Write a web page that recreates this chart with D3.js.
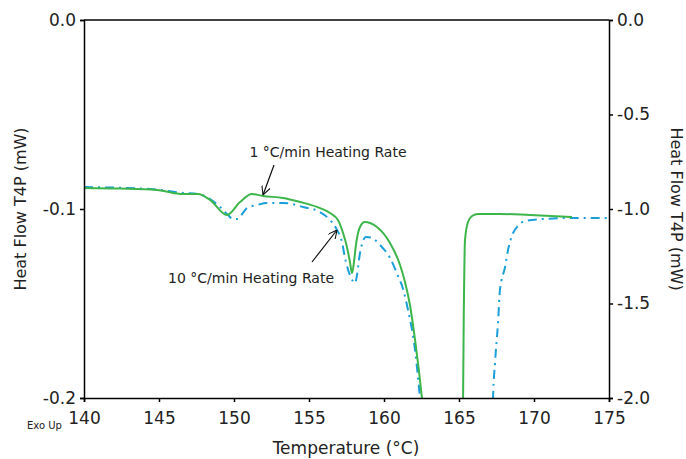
<!DOCTYPE html>
<html><head><meta charset="utf-8">
<script src="https://cdn.jsdelivr.net/npm/d3@7"></script>
<style>body{margin:0;background:#fff}svg{display:block}text{font-family:"DejaVu Sans",sans-serif;fill:#222}</style>
</head><body>
<svg id="c" width="686" height="459"></svg>
<script>
// Temperature (°C) and heat flow (mW) for 1 °C/min (left axis)
const temp1 = [140,142.4,144.87,146.6,147.6,148.4,149.53,150.4,151.2,151.93,153.27,154.4,155.53,156.4,156.93,157.27,157.53,157.73,157.87,158.0,158.13,158.4,158.73,159.07,159.53,160.4,161.07,161.4,161.73,162.07,162.53,162.8,163.07,163.73,165.2,165.27,165.33,165.4,165.6,165.87,166.27,167.73,169.73,172.53];
const flow1 = [-0.0889,-0.0892,-0.0899,-0.0921,-0.0921,-0.0952,-0.1032,-0.0963,-0.0921,-0.0931,-0.0942,-0.0963,-0.0989,-0.1021,-0.1058,-0.1127,-0.1201,-0.128,-0.1339,-0.128,-0.119,-0.1095,-0.1069,-0.1074,-0.1095,-0.118,-0.1296,-0.1386,-0.1508,-0.1693,-0.2,-0.222,-0.254,-0.36,-0.36,-0.2011,-0.148,-0.1164,-0.1069,-0.1037,-0.1026,-0.1026,-0.1032,-0.1042];
// 10 °C/min (right axis)
const temp10 = [140,144.4,146.6,147.6,148.4,149.07,149.6,149.93,150.2,150.87,151.53,152.2,153.27,154.6,155.73,156.4,156.87,157.2,157.4,157.73,158.07,158.2,158.4,158.8,159.2,159.73,160.4,160.93,161.27,161.6,162.07,162.4,162.67,163.4,167.07,167.27,167.4,167.6,167.73,168.07,168.27,168.6,168.93,169.4,170.6,172.2,175];
const flow10 = [-0.884,-0.894,-0.915,-0.921,-0.947,-0.989,-1.032,-1.053,-1.053,-0.995,-0.979,-0.968,-0.968,-0.989,-1.016,-1.058,-1.111,-1.175,-1.259,-1.349,-1.392,-1.349,-1.233,-1.148,-1.153,-1.19,-1.259,-1.354,-1.423,-1.534,-1.746,-2.0,-2.22,-3.6,-3.6,-2.0,-1.815,-1.603,-1.429,-1.307,-1.217,-1.127,-1.09,-1.063,-1.053,-1.048,-1.048];
const xTicks = [140,145,150,155,160,165,170,175];
const yLeftTicks = [0.0,-0.1,-0.2];
const yRightTicks = [0.0,-0.5,-1.0,-1.5,-2.0];

const svg = d3.select("#c");
const m = {l:84, r:609, t:20, b:398};
const x = d3.scaleLinear().domain([140,175]).range([m.l,m.r]);
const yL = d3.scaleLinear().domain([-0.2,0]).range([m.b,m.t]);
const yR = d3.scaleLinear().domain([-2,0]).range([m.b,m.t]);

svg.append("defs").append("clipPath").attr("id","clip").append("rect")
  .attr("x",m.l).attr("y",m.t).attr("width",m.r-m.l).attr("height",m.b-m.t);
const mk = svg.select("defs").append("marker").attr("id","arr").attr("viewBox","0 0 10 10")
  .attr("refX",10).attr("refY",5).attr("markerWidth",9).attr("markerHeight",9).attr("orient","auto")
  .attr("markerUnits","userSpaceOnUse");
mk.append("path").attr("d","M0,0L10,5L0,10").attr("fill","none").attr("stroke","#111").attr("stroke-width",1.2);

const g = svg.append("g").attr("clip-path","url(#clip)");
const d1 = temp1.map((t,i)=>[t,flow1[i]]);
const d10 = temp10.map((t,i)=>[t,flow10[i]]);
g.append("path").datum(d10).attr("fill","none").attr("stroke","#1a9fdb").attr("stroke-width",2)
  .attr("stroke-dasharray","9,5,2,5")
  .attr("d",d3.line().x(d=>x(d[0])).y(d=>yR(d[1])).curve(d3.curveMonotoneX));
g.append("path").datum(d1).attr("fill","none").attr("stroke","#3cb54a").attr("stroke-width",2)
  .attr("d",d3.line().x(d=>x(d[0])).y(d=>yL(d[1])).curve(d3.curveMonotoneX));

// axes
const fs = "17px";
const ax = svg.append("g").attr("transform",`translate(0,${m.b})`)
  .call(d3.axisBottom(x).tickValues(xTicks).tickSize(4).tickPadding(4).tickFormat(d3.format("d")));
const al = svg.append("g").attr("transform",`translate(${m.l},0)`)
  .call(d3.axisLeft(yL).tickValues(yLeftTicks).tickSize(4).tickPadding(4).tickFormat(d3.format(".1f")));
const ar = svg.append("g").attr("transform",`translate(${m.r},0)`)
  .call(d3.axisRight(yR).tickValues(yRightTicks).tickSize(4).tickPadding(4).tickFormat(d3.format(".1f")));
svg.append("line").attr("x1",m.l).attr("x2",m.r).attr("y1",m.t).attr("y2",m.t).attr("stroke","#000").attr("stroke-width",1.5);
[ax,al,ar].forEach(a=>{
  a.selectAll("path.domain").attr("stroke","#000").attr("stroke-width",1.5);
  a.selectAll("line").attr("stroke","#000").attr("stroke-width",1.5);
  a.selectAll("text").style("font-size",fs).attr("fill","#222").text(function(){return this.textContent.replace("−","-");});
});
ax.selectAll("text").attr("dy","1.05em");

svg.append("text").attr("x",346).attr("y",454).attr("text-anchor","middle").style("font-size",fs).text("Temperature (°C)");
svg.append("text").attr("transform","translate(26,209) rotate(-90)").attr("text-anchor","middle").style("font-size","16px").text("Heat Flow T4P (mW)");
svg.append("text").attr("transform","translate(671,209) rotate(90)").attr("text-anchor","middle").style("font-size","16px").text("Heat Flow T4P (mW)");
svg.append("text").attr("x",27).attr("y",429).style("font-size","10px").text("Exo Up");

// annotations
svg.append("text").attr("x",328).attr("y",157).attr("text-anchor","middle").style("font-size","14px").text("1 °C/min Heating Rate");
svg.append("line").attr("x1",274).attr("y1",165).attr("x2",263).attr("y2",195).attr("stroke","#111").attr("stroke-width",1.2).attr("marker-end","url(#arr)");
svg.append("text").attr("x",251).attr("y",283).attr("text-anchor","middle").style("font-size","14px").text("10 °C/min Heating Rate");
svg.append("line").attr("x1",312).attr("y1",262).attr("x2",337).attr("y2",230).attr("stroke","#111").attr("stroke-width",1.2).attr("marker-end","url(#arr)");
</script>
</body></html>
